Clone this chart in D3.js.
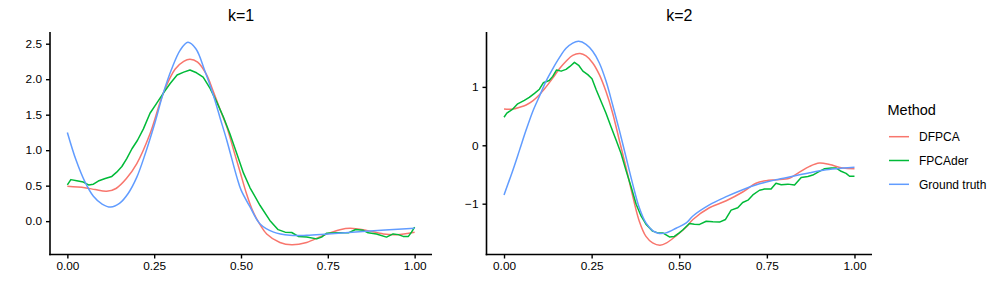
<!DOCTYPE html>
<html>
<head>
<meta charset="utf-8">
<script src="https://cdn.jsdelivr.net/npm/d3@7"></script>
<style>
  body { margin: 0; background: #fff; }
  text { font-family: "Liberation Sans", Arial, sans-serif; }
</style>
</head>
<body>
<div id="chart"></div>
<script>
// legend / series names and colours
var methods = ["DFPCA", "FPCAder", "Ground truth"];
var colors = ["#F8766D", "#00BA38", "#619CFF"];

// tick labels
var xTicks = [0, 0.25, 0.5, 0.75, 1];
var k1Ticks = [0, 0.5, 1, 1.5, 2, 2.5];
var k2Ticks = [-1, 0, 1];

// k=1 curves, [t, value]
var k1_dfpca = [[0,0.49],[0.05,0.47],[0.08,0.445],[0.113,0.42],[0.14,0.46],[0.17,0.6],[0.2,0.81],
  [0.238,1.23],[0.276,1.8],[0.31,2.14],[0.335,2.25],[0.353,2.28],[0.375,2.24],[0.4,2.07],[0.42,1.83],
  [0.44,1.57],[0.459,1.33],[0.48,0.98],[0.497,0.7],[0.515,0.4],[0.535,0.13],[0.555,-0.05],[0.574,-0.18],
  [0.612,-0.3],[0.646,-0.334],[0.689,-0.3],[0.737,-0.2],[0.785,-0.12],[0.814,-0.1],[0.862,-0.13],
  [0.91,-0.18],[0.948,-0.19],[1,-0.155]];
var k1_fpcader = [[0,0.51],[0.01,0.585],[0.027,0.57],[0.046,0.55],[0.061,0.51],[0.075,0.52],[0.089,0.565],
  [0.109,0.6],[0.128,0.63],[0.142,0.69],[0.157,0.77],[0.171,0.88],[0.186,1.02],[0.202,1.14],[0.219,1.3],
  [0.238,1.52],[0.257,1.66],[0.276,1.8],[0.296,1.94],[0.316,2.06],[0.335,2.1],[0.353,2.13],[0.372,2.09],
  [0.391,2.03],[0.411,1.87],[0.43,1.68],[0.449,1.47],[0.468,1.23],[0.488,0.95],[0.507,0.68],[0.526,0.47],
  [0.555,0.22],[0.583,0.01],[0.607,-0.12],[0.627,-0.155],[0.646,-0.16],[0.665,-0.215],[0.689,-0.225],
  [0.718,-0.25],[0.732,-0.225],[0.747,-0.17],[0.775,-0.165],[0.809,-0.165],[0.83,-0.117],[0.852,-0.13],
  [0.866,-0.165],[0.89,-0.18],[0.919,-0.225],[0.938,-0.18],[0.953,-0.19],[0.967,-0.215],[0.982,-0.215],
  [0.991,-0.155],[1,-0.085]];
var k1_truth = [[0,1.25],[0.025,0.86],[0.05,0.56],[0.075,0.35],[0.1,0.24],[0.125,0.198],[0.15,0.25],
  [0.175,0.39],[0.2,0.62],[0.225,0.96],[0.25,1.35],[0.276,1.8],[0.3,2.14],[0.325,2.41],[0.347,2.52],
  [0.37,2.43],[0.395,2.13],[0.42,1.78],[0.44,1.45],[0.459,1.14],[0.488,0.62],[0.5,0.44],[0.526,0.2],
  [0.555,-0.04],[0.594,-0.155],[0.641,-0.2],[0.689,-0.2],[0.75,-0.18],[0.85,-0.145],[1,-0.099]];

// k=2 curves, [t, value]
var k2_dfpca = [[0,0.62],[0.025,0.62],[0.044,0.65],[0.063,0.69],[0.082,0.76],[0.101,0.865],[0.12,1],
  [0.139,1.15],[0.158,1.31],[0.177,1.44],[0.196,1.54],[0.217,1.57],[0.234,1.53],[0.253,1.41],[0.272,1.21],
  [0.291,0.92],[0.31,0.55],[0.329,0.087],[0.348,-0.375],[0.367,-0.865],[0.386,-1.3],[0.405,-1.56],
  [0.424,-1.67],[0.445,-1.71],[0.464,-1.67],[0.491,-1.55],[0.52,-1.4],[0.539,-1.27],[0.586,-1.07],
  [0.634,-0.95],[0.681,-0.8],[0.719,-0.65],[0.748,-0.605],[0.776,-0.59],[0.814,-0.565],[0.843,-0.46],
  [0.872,-0.36],[0.9,-0.305],[0.929,-0.33],[0.967,-0.39],[1,-0.4]];
var k2_fpcader = [[0,0.48],[0.008,0.55],[0.025,0.62],[0.039,0.71],[0.058,0.77],[0.072,0.82],[0.087,0.89],
  [0.101,0.96],[0.112,1.07],[0.129,1.11],[0.139,1.18],[0.15,1.29],[0.163,1.27],[0.177,1.3],[0.188,1.35],
  [0.201,1.42],[0.213,1.37],[0.225,1.27],[0.239,1.21],[0.251,1.14],[0.263,0.95],[0.277,0.75],[0.291,0.55],
  [0.305,0.32],[0.32,0.087],[0.334,-0.14],[0.348,-0.43],[0.363,-0.72],[0.377,-1.01],[0.391,-1.21],
  [0.405,-1.35],[0.424,-1.47],[0.439,-1.5],[0.453,-1.5],[0.472,-1.57],[0.486,-1.56],[0.5,-1.5],
  [0.51,-1.45],[0.529,-1.34],[0.543,-1.35],[0.558,-1.355],[0.577,-1.3],[0.596,-1.31],[0.615,-1.315],
  [0.632,-1.27],[0.648,-1.11],[0.667,-1.07],[0.681,-0.98],[0.696,-0.94],[0.71,-0.85],[0.729,-0.77],
  [0.743,-0.75],[0.762,-0.75],[0.776,-0.65],[0.791,-0.675],[0.81,-0.665],[0.829,-0.68],[0.848,-0.55],
  [0.867,-0.535],[0.881,-0.51],[0.896,-0.46],[0.915,-0.4],[0.934,-0.39],[0.948,-0.39],[0.962,-0.445],
  [0.976,-0.48],[0.986,-0.53],[1,-0.53]];
var k2_truth = [[0,-0.85],[0.025,-0.43],[0.044,-0.087],[0.063,0.26],[0.082,0.58],[0.101,0.84],[0.12,1.1],
  [0.139,1.31],[0.158,1.5],[0.177,1.66],[0.196,1.75],[0.213,1.78],[0.234,1.73],[0.253,1.61],[0.272,1.41],
  [0.291,1.1],[0.31,0.69],[0.329,0.26],[0.348,-0.2],[0.367,-0.66],[0.386,-1.07],[0.405,-1.33],
  [0.424,-1.46],[0.443,-1.51],[0.462,-1.5],[0.491,-1.42],[0.52,-1.33],[0.539,-1.21],[0.586,-1.02],
  [0.634,-0.88],[0.681,-0.76],[0.729,-0.66],[0.776,-0.59],[0.824,-0.53],[0.872,-0.47],[0.919,-0.42],
  [0.967,-0.39],[1,-0.375]];

var svg = d3.select("#chart")
  .append("svg")
    .attr("width", 996)
    .attr("height", 299);

// one facet per k
var panels = [
  {title: "k=1", left: 50, right: 432, yDomain: [-0.47, 2.665], ticks: k1Ticks, fmt: d3.format(".1f"),
   series: [k1_dfpca, k1_fpcader, k1_truth]},
  {title: "k=2", left: 486.5, right: 872, yDomain: [-1.87, 1.94], ticks: k2Ticks, fmt: d3.format("d"),
   series: [k2_dfpca, k2_fpcader, k2_truth]}
];
var panelTop = 32, panelBottom = 254.5;

panels.forEach(function(p) {
  var x = d3.scaleLinear().domain([-0.05, 1.05]).range([p.left, p.right]);
  var y = d3.scaleLinear().domain(p.yDomain).range([panelBottom, panelTop]);

  var g = svg.append("g");

  // x axis
  g.append("g")
      .attr("transform", "translate(0," + panelBottom + ")")
      .call(d3.axisBottom(x).tickValues(xTicks).tickFormat(d3.format(".2f"))
        .tickSize(4).tickSizeOuter(0).tickPadding(3.5))
      .call(function(a) {
        a.select(".domain").attr("d", "M" + (p.left - 0.8) + ",0H" + p.right);
      });

  // y axis
  g.append("g")
      .attr("transform", "translate(" + p.left + ",0)")
      .call(d3.axisLeft(y).tickValues(p.ticks).tickFormat(p.fmt)
        .tickSize(4).tickSizeOuter(0).tickPadding(4))
      .call(function(a) {
        a.select(".domain").attr("d", "M0," + panelTop + "V" + (panelBottom + 0.8));
      });

  g.selectAll(".domain").attr("stroke", "#000").attr("stroke-width", 1.6);
  g.selectAll(".tick line").attr("stroke", "#000").attr("stroke-width", 1.4);
  g.selectAll(".tick text").attr("font-size", "11.8px").attr("fill", "#000")
    .attr("font-family", "Liberation Sans, Arial, sans-serif");

  // curves
  p.series.forEach(function(s, i) {
    var line = d3.line()
        .x(function(d) { return x(d[0]); })
        .y(function(d) { return y(d[1]); })
        .curve(i === 1 ? d3.curveLinear : d3.curveCatmullRom);
    g.append("path")
        .datum(s)
        .attr("fill", "none")
        .attr("stroke", colors[i])
        .attr("stroke-width", 1.5)
        .attr("stroke-linejoin", "round")
        .attr("d", line);
  });

  // facet title
  g.append("text")
      .attr("x", (p.left + p.right) / 2)
      .attr("y", 20.5)
      .attr("text-anchor", "middle")
      .attr("font-size", "16px")
      .attr("fill", "#000")
      .text(p.title);
});

// legend
var legend = svg.append("g");
legend.append("text")
    .attr("x", 887.5)
    .attr("y", 115)
    .attr("font-size", "14.5px")
    .attr("fill", "#000")
    .text("Method");

var keys = legend.selectAll(".key")
    .data(methods)
    .enter().append("g")
    .attr("transform", function(d, i) { return "translate(0," + (136.7 + i * 23.8) + ")"; });
keys.append("line")
    .attr("x1", 889).attr("x2", 909)
    .attr("stroke", function(d, i) { return colors[i]; })
    .attr("stroke-width", 1.5);
keys.append("text")
    .attr("x", 919)
    .attr("dy", "0.35em")
    .attr("font-size", "12px")
    .attr("fill", "#000")
    .text(function(d) { return d; });
</script>
</body>
</html>
